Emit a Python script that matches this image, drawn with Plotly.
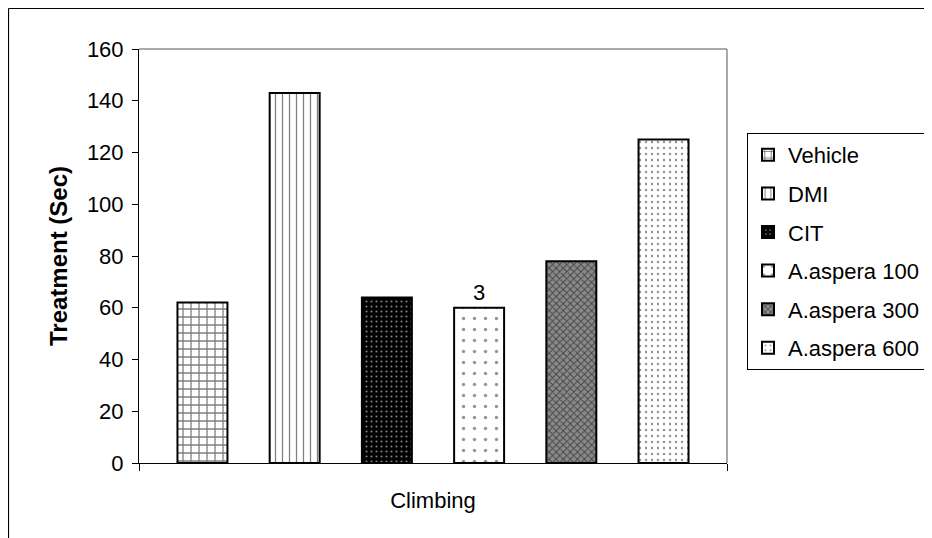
import plotly.graph_objects as go

categories = ["Climbing"]
series_names = ["Vehicle", "DMI", "CIT", "A.aspera 100", "A.aspera 300", "A.aspera 600"]
series_values = [62, 143, 64, 60, 78, 125]
bar_texts = ["", "", "", "3", "", ""]
y_ticks = [0, 20, 40, 60, 80, 100, 120, 140, 160]

patterns = [
    dict(shape="+", bgcolor="white", fgcolor="black", size=8, solidity=0.3),
    dict(shape="|", bgcolor="white", fgcolor="black", size=7, solidity=0.18),
    dict(shape=".", bgcolor="black", fgcolor="white", size=5, solidity=0.15),
    dict(shape=".", bgcolor="white", fgcolor="#333333", size=11, solidity=0.08),
    dict(shape="x", bgcolor="#8a8a8a", fgcolor="black", size=5, solidity=0.35),
    dict(shape=".", bgcolor="white", fgcolor="#222222", size=6, solidity=0.12),
]

FONT = "Liberation Sans, Arial, sans-serif"

fig = go.Figure()
for i, name in enumerate(series_names):
    fig.add_trace(go.Bar(
        name=name,
        x=categories,
        y=[series_values[i]],
        text=[bar_texts[i]],
        textposition="outside",
        textfont=dict(family=FONT, size=22, color="black"),
        cliponaxis=False,
        legendgroup=name,
        marker=dict(color="white", line=dict(color="black", width=2), pattern=patterns[i]),
    ))

# pixel geometry of plot area (figure coordinates; page adds an 8px body margin)
W, H = 932, 538
L, R, T, B = 131, 719, 41, 455
pw, ph = R - L, B - T

def px_x(x):
    return (x - L) / pw

def px_y(y):
    return (B - y) / ph

fig.update_layout(
    width=W, height=H,
    margin=dict(l=L, r=W - R, t=T, b=H - B, autoexpand=False),
    paper_bgcolor="white",
    plot_bgcolor="white",
    barmode="group",
    bargap=0.059,
    bargroupgap=0.458,
    font=dict(family=FONT, size=22, color="black"),
    showlegend=True,
    legend=dict(
        x=px_x(739), y=px_y(125), xanchor="left", yanchor="top",
        bordercolor="black", borderwidth=1, bgcolor="white",
        font=dict(family=FONT, size=22, color="black"),
        tracegroupgap=7,
        itemwidth=30,
    ),
    xaxis=dict(
        type="category",
        showline=True, linecolor="black", linewidth=1,
        ticks="outside", tickson="boundaries", ticklen=7, tickcolor="black",
        ticklabelstandoff=18,
        tickfont=dict(family=FONT, size=22, color="black"),
        showgrid=False, zeroline=False,
    ),
    yaxis=dict(
        range=[0, 160],
        tickvals=y_ticks,
        showline=True, linecolor="black", linewidth=1,
        ticks="outside", ticklen=6, tickcolor="black",
        ticklabelstandoff=4,
        tickfont=dict(family=FONT, size=22, color="black"),
        showgrid=False, zeroline=False,
        title=dict(text="<b>Treatment (Sec)</b>", standoff=12,
                   font=dict(family=FONT, size=24, color="black")),
    ),
    shapes=[
        # plot area frame (top and right)
        dict(type="line", xref="paper", yref="paper", x0=0, x1=1, y0=1, y1=1,
             line=dict(color="#8c8c8c", width=1.5)),
        dict(type="line", xref="paper", yref="paper", x0=1, x1=1, y0=0, y1=1,
             line=dict(color="#8c8c8c", width=1.5)),
        # outer chart border (top and left edges visible)
        dict(type="line", xref="paper", yref="paper",
             x0=px_x(0.5), x1=px_x(W), y0=px_y(0.5), y1=px_y(0.5),
             line=dict(color="black", width=1.2), layer="above"),
        dict(type="line", xref="paper", yref="paper",
             x0=px_x(0.5), x1=px_x(0.5), y0=px_y(0.5), y1=px_y(H),
             line=dict(color="black", width=1.2), layer="above"),
    ],
)

fig.write_html("out.html")
